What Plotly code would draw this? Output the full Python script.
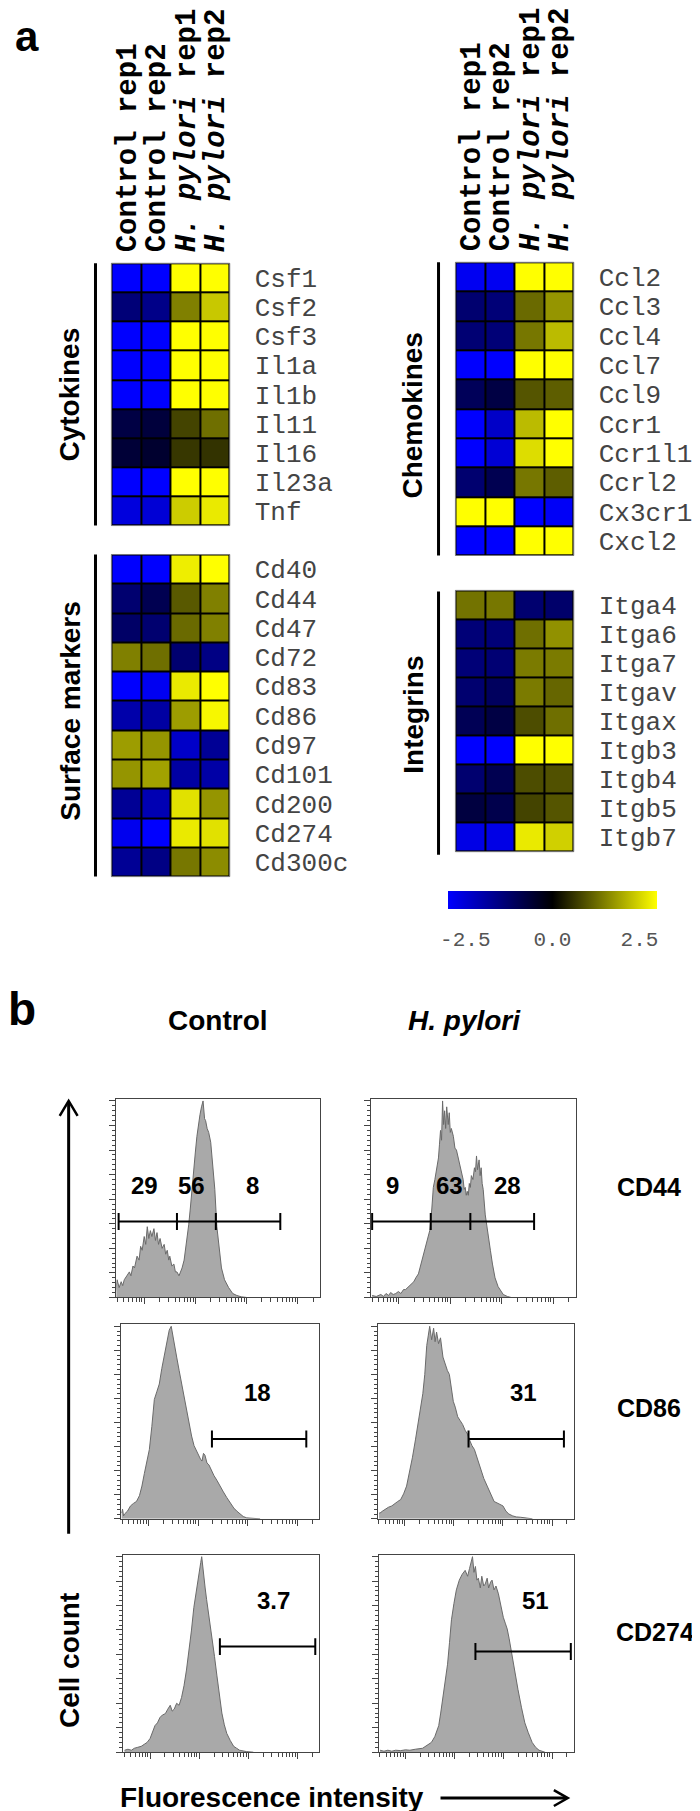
import math
import plotly.graph_objects as go

W, H = 700, 1811
SANS = "Arial, Liberation Sans, sans-serif"
MONO = "Courier New, Liberation Mono, monospace"

# ---------------- panel a : heatmap data ----------------
COLUMNS = ["Control rep1", "Control rep2", "H. pylori rep1", "H. pylori rep2"]
COLUMN_TEXT = ["Control rep1", "Control rep2", "<i>H. pylori</i> rep1", "<i>H. pylori</i> rep2"]

CYTOKINES = ["Csf1", "Csf2", "Csf3", "Il1a", "Il1b", "Il11", "Il16", "Il23a", "Tnf"]
CYTOKINE_Z = [
    [-3.0, -3.0, 3.0, 3.0],
    [-1.4, -1.6, 1.5, 2.35],
    [-3.0, -3.0, 3.0, 3.0],
    [-3.0, -3.0, 3.0, 3.0],
    [-3.0, -3.0, 3.0, 3.0],
    [-0.8, -0.7, 0.8, 1.3],
    [-0.65, -0.55, 0.65, 0.6],
    [-3.0, -3.0, 3.0, 3.0],
    [-2.6, -2.5, 2.4, 2.75],
]

SURFACE = ["Cd40", "Cd44", "Cd47", "Cd72", "Cd83", "Cd86", "Cd97", "Cd101", "Cd200", "Cd274", "Cd300c"]
SURFACE_Z = [
    [-3.0, -3.0, 2.8, 3.0],
    [-1.3, -0.95, 1.05, 1.5],
    [-1.2, -1.3, 1.25, 1.5],
    [1.5, 1.3, -1.3, -1.55],
    [-3.0, -2.85, 2.75, 3.0],
    [-2.0, -1.9, 1.85, 2.9],
    [1.85, 1.75, -2.35, -1.75],
    [1.75, 1.9, -1.9, -1.95],
    [-1.75, -2.1, 2.65, 1.75],
    [-2.8, -3.0, 2.75, 2.65],
    [-1.75, -1.55, 1.4, 1.65],
]

CHEMOKINES = ["Ccl2", "Ccl3", "Ccl4", "Ccl7", "Ccl9", "Ccr1", "Ccr1l1", "Ccrl2", "Cx3cr1", "Cxcl2"]
CHEMOKINE_Z = [
    [-2.85, -2.85, 3.0, 3.0],
    [-1.3, -1.4, 1.25, 1.75],
    [-1.35, -1.4, 1.4, 2.2],
    [-3.0, -3.0, 3.0, 3.0],
    [-1.05, -0.8, 1.0, 1.1],
    [-3.0, -2.35, 2.2, 3.0],
    [-3.0, -2.5, 2.6, 3.0],
    [-1.3, -0.95, 1.4, 1.1],
    [3.0, 3.0, -3.0, -2.9],
    [-3.0, -3.0, 3.0, 3.0],
]

INTEGRINS = ["Itga4", "Itga6", "Itga7", "Itgav", "Itgax", "Itgb3", "Itgb4", "Itgb5", "Itgb7"]
INTEGRIN_Z = [
    [1.35, 1.4, -1.3, -1.25],
    [-1.4, -1.4, 1.3, 1.7],
    [-1.4, -1.35, 1.45, 1.45],
    [-1.3, -1.1, 1.45, 1.2],
    [-1.0, -0.8, 0.9, 1.3],
    [-3.0, -3.0, 3.0, 3.0],
    [-1.3, -0.95, 0.9, 0.95],
    [-0.75, -0.9, 0.8, 1.0],
    [-2.7, -2.7, 2.75, 2.45],
]

SCALE_TICKS = [-2.5, 0.0, 2.5]
SCALE_TEXT = ["-2.5", "0.0", "2.5"]

# ---------------- panel b : flow histograms (x = log10 fluorescence, y = % of max) ----------------
CD44_CTRL_X = [1.44, 1.47, 1.51, 1.55, 1.58, 1.61, 1.66, 1.71, 1.74, 1.78,
               1.81, 1.86, 1.90, 1.93, 1.96, 2.00, 2.03, 2.06, 2.09, 2.12,
               2.15, 2.19, 2.22, 2.25, 2.28, 2.31, 2.35, 2.39, 2.42, 2.45,
               2.48, 2.50, 2.54, 2.58, 2.61, 2.64, 2.68, 2.71, 2.74, 2.78,
               2.83, 2.87, 2.90, 2.93, 2.97, 3.00, 3.03, 3.06, 3.09, 3.12,
               3.15, 3.18, 3.20, 3.23, 3.26, 3.30, 3.34, 3.38, 3.42, 3.48,
               3.51, 3.57, 3.65, 3.73, 3.81, 3.90, 4.00]
CD44_CTRL_Y = [3, 9, 5, 8, 6, 9, 11, 13, 11, 16,
               15, 21, 19, 26, 24, 31, 27, 36, 30, 34,
               31, 35, 29, 33, 27, 30, 25, 27, 22, 24,
               19, 21, 16, 17, 13, 13, 11, 13, 15, 19,
               28, 37, 45, 55, 66, 74, 82, 88, 93, 97,
               100, 91, 90, 86, 84, 79, 66, 55, 36, 22,
               15, 9, 5, 2, 1, 0.3, 0]

CD44_HP_X = [1.48, 1.56, 1.65, 1.70, 1.75, 1.80, 1.84, 1.89, 1.94, 1.99,
             2.04, 2.09, 2.13, 2.19, 2.25, 2.29, 2.33, 2.38, 2.41, 2.44,
             2.47, 2.50, 2.53, 2.56, 2.60, 2.64, 2.67, 2.70, 2.73, 2.77,
             2.79, 2.81, 2.83, 2.85, 2.87, 2.89, 2.91, 2.93, 2.96, 2.98,
             3.00, 3.02, 3.06, 3.09, 3.12, 3.16, 3.20, 3.23, 3.25, 3.27,
             3.29, 3.31, 3.33, 3.35, 3.37, 3.39, 3.41, 3.44, 3.47, 3.49,
             3.51, 3.53, 3.56, 3.58, 3.60, 3.62, 3.64, 3.68, 3.72, 3.78,
             3.82, 3.87, 3.93, 3.99, 4.03, 4.11, 4.18]
CD44_HP_Y = [1, 0.5, 1.5, 0.5, 2, 1, 2.5, 1.5, 2, 3,
             2, 4, 4, 5.5, 7, 8, 10, 12, 15, 18,
             21, 24, 27, 30, 34, 45, 56, 60, 64, 71,
             78, 85, 80, 100, 88, 95, 86, 97, 88, 94,
             84, 86, 82, 76, 75, 70, 66, 62, 60, 55,
             56, 52, 54, 52, 58, 56, 62, 60, 66, 64,
             72, 65, 70, 62, 66, 58, 55, 42, 34, 24,
             17, 10, 5.5, 3, 1.5, 0.5, 0]

CD86_CTRL_X = [1.46, 1.48, 1.50, 1.52, 1.58, 1.64, 1.70, 1.76, 1.82, 1.87,
               1.92, 1.97, 2.02, 2.07, 2.12, 2.17, 2.22, 2.27, 2.32, 2.37,
               2.42, 2.46, 2.49, 2.52, 2.57, 2.62, 2.67, 2.72, 2.77, 2.82,
               2.87, 2.92, 2.97, 3.02, 3.05, 3.08, 3.11, 3.14, 3.18, 3.22,
               3.27, 3.32, 3.38, 3.44, 3.51, 3.58, 3.65, 3.72, 3.78, 3.84,
               3.91, 3.98, 4.12, 4.25]
CD86_CTRL_Y = [3, 5, 1.5, 2.5, 4, 6.7, 8, 9, 12, 17,
               23.6, 29, 36, 48, 62, 66, 70, 78, 85, 91,
               98, 100, 95, 92, 84, 77, 70, 62, 55, 49,
               43, 38, 35, 32, 31, 30, 34, 33, 29, 28,
               25, 22.5, 20, 17, 14, 11, 8, 5.6, 4, 2.5,
               1.2, 0.5, 0.3, 0]

CD86_HP_X = [1.48, 1.50, 1.55, 1.60, 1.67, 1.74, 1.80, 1.86, 1.92, 1.98,
             2.04, 2.10, 2.16, 2.22, 2.30, 2.37, 2.41, 2.45, 2.48, 2.51,
             2.55, 2.59, 2.62, 2.65, 2.69, 2.73, 2.78, 2.83, 2.87, 2.91,
             2.95, 2.99, 3.03, 3.08, 3.13, 3.18, 3.23, 3.28, 3.32, 3.37,
             3.42, 3.47, 3.54, 3.61, 3.68, 3.75, 3.82, 3.90, 4.00, 4.06,
             4.12, 4.20, 4.27, 4.36, 4.45, 4.60]
CD86_HP_Y = [3, 3, 4, 5, 6, 6.7, 8, 9, 10, 13,
             17, 24, 32, 41, 53, 65, 75, 90, 95, 100,
             93, 99, 92, 97, 91, 94, 84, 80, 77, 75,
             67, 61, 58, 53, 51, 49, 46, 44, 41, 38,
             36, 32, 25.6, 21, 17, 13, 9, 8, 6.7, 4,
             2.5, 1.5, 1, 0.8, 0.5, 0]

CD274_CTRL_X = [1.48, 1.55, 1.62, 1.68, 1.75, 1.82, 1.88, 1.94, 2.00, 2.05,
                2.10, 2.15, 2.20, 2.25, 2.31, 2.36, 2.41, 2.45, 2.49, 2.54,
                2.59, 2.64, 2.69, 2.74, 2.79, 2.84, 2.89, 2.95, 3.00, 3.03,
                3.05, 3.09, 3.12, 3.15, 3.20, 3.26, 3.31, 3.36, 3.41, 3.46,
                3.51, 3.56, 3.63, 3.70, 3.76, 3.82, 3.96, 4.10]
CD274_CTRL_Y = [1, 1.5, 1, 2, 2.5, 3, 4, 5, 7, 10,
                13.6, 15, 17.7, 19, 19.7, 22, 24, 21, 22, 25,
                24, 28, 34, 42, 51, 62, 74, 85, 93, 97,
                100, 89, 84, 78, 69, 60, 49, 39, 29, 20,
                14, 9.6, 6, 3, 2, 1, 0.3, 0]

CD274_HP_X = [1.48, 1.56, 1.64, 1.72, 1.80, 1.90, 2.00, 2.09, 2.20, 2.30,
              2.35, 2.44, 2.53, 2.60, 2.68, 2.72, 2.76, 2.81, 2.86, 2.90,
              2.94, 2.99, 3.04, 3.10, 3.16, 3.22, 3.27, 3.31, 3.34, 3.37,
              3.40, 3.43, 3.46, 3.49, 3.53, 3.56, 3.60, 3.63, 3.67, 3.70,
              3.74, 3.77, 3.81, 3.85, 3.90, 3.95, 4.00, 4.04, 4.08, 4.12,
              4.16, 4.22, 4.26, 4.30, 4.37, 4.44, 4.51, 4.59, 4.66, 4.73,
              4.85]
CD274_HP_Y = [1, 0.5, 1, 0.5, 1, 0.8, 1.2, 1, 1.5, 2,
              2, 3.5, 5, 8, 13.6, 20, 27, 36, 45, 56,
              67.7, 76, 83, 88, 91, 93, 90, 94, 97, 100,
              92, 95, 88, 89, 84, 90, 85, 86, 89, 84,
              87, 88, 83, 85, 81, 74, 69, 66, 63, 58,
              52, 44, 38, 32, 23, 15, 10, 5, 2.5, 1,
              0]

GATES = {
    "cd44_ctrl": ([1.50, 2.64, 3.40, 4.66], 38.7),
    "cd44_hp": ([1.48, 2.62, 3.39, 4.63], 38.7),
    "cd86_ctrl": ([3.28, 5.18], 41.5),
    "cd86_hp": ([3.30, 5.24], 41.5),
    "cd274_ctrl": ([3.42, 5.36], 54.0),
    "cd274_hp": ([3.43, 5.38], 51.5),
}
GATE_LABELS = {
    "cd44_ctrl": [("29", 2.00, 57), ("56", 2.93, 57), ("8", 4.12, 57)],
    "cd44_hp": [("9", 1.88, 57), ("63", 2.98, 57), ("28", 4.11, 57)],
    "cd86_ctrl": [("18", 4.20, 65.6)],
    "cd86_hp": [("31", 4.41, 65.6)],
    "cd274_ctrl": [("3.7", 4.51, 77.8)],
    "cd274_hp": [("51", 4.65, 77.8)],
}
MARKERS = ["CD44", "CD86", "CD274"]

X_MIN, X_MAX = 1.456, 5.44

# ---------------- helpers ----------------
def dom_x(a, b):
    return [a / W, b / W]

def dom_y(top, bottom):
    return [1 - bottom / H, 1 - top / H]

def px(x):
    return x / W

def py(y):
    return 1 - y / H

fig = go.Figure()
layout = dict(
    width=W, height=H, margin=dict(l=0, r=0, t=0, b=0),
    paper_bgcolor="white", plot_bgcolor="white", showlegend=False,
    coloraxis=dict(
        colorscale=[[0, "#0000ff"], [0.5, "#000000"], [1, "#ffff00"]],
        cmin=-3, cmax=3,
        colorbar=dict(
            orientation="h", x=px(547.5), xanchor="center", y=py(883), yanchor="top",
            len=209, lenmode="pixels", thickness=18, thicknessmode="pixels",
            outlinewidth=0, xpad=0, ypad=0,
            tickvals=SCALE_TICKS, ticktext=SCALE_TEXT, ticks="outside", ticklen=12,
            tickcolor="rgba(0,0,0,0)",
            tickfont=dict(family=MONO, size=21, color="#555555"),
        ),
    ),
    annotations=[], shapes=[],
)

heatmaps = [
    (1, CYTOKINES, CYTOKINE_Z, (104, 223), (254, 517), True),
    (2, SURFACE, SURFACE_Z, (104, 223), (546, 869), False),
    (3, CHEMOKINES, CHEMOKINE_Z, (450, 569), (253, 547), True),
    (4, INTEGRINS, INTEGRIN_Z, (450, 569), (582, 844), False),
]

def key(prefix, n):
    return prefix if n == 1 else f"{prefix}{n}"

for n, genes, z, (xl, xr), (yt, yb), show_cols in heatmaps:
    xa, ya = key("x", n), key("y", n)
    fig.add_trace(go.Heatmap(
        z=z, x=COLUMNS, y=genes, coloraxis="coloraxis", xgap=2, ygap=2,
        xaxis=xa, yaxis=ya, hoverinfo="skip",
    ))
    layout[key("xaxis", n)] = dict(
        domain=dom_x(xl, xr), anchor=ya, side="top", tickangle=-90,
        tickmode="array", tickvals=COLUMNS, ticktext=COLUMN_TEXT, showticklabels=show_cols,
        ticks="", ticklabelstandoff=10,
        tickfont=dict(family=MONO, size=29, color="black", weight="bold"),
        showgrid=False, zeroline=False, showline=False,
    )
    layout[key("yaxis", n)] = dict(
        domain=dom_y(yt, yb), anchor=xa, side="right", autorange="reversed",
        tickmode="array", tickvals=genes, ticktext=genes,
        ticks="", ticklabelstandoff=24,
        tickfont=dict(family=MONO, size=26, color="#444444"),
        showgrid=False, zeroline=False, showline=False,
    )
    layout["shapes"].append(dict(
        type="rect", xref=f"{xa} domain", yref=f"{ya} domain",
        x0=0, x1=1, y0=0, y1=1, layer="below",
        fillcolor="black", line=dict(color="#777777", width=1),
    ))

# group bars and labels
groups = [
    ("Cytokines", 88, 254, 517, 62, 386),
    ("Surface markers", 88, 546, 869, 62, 703),
    ("Chemokines", 433, 253, 547, 407, 406),
    ("Integrins", 433, 583, 847, 407, 707),
]
for label, bx, y0, y1, tx, ty in groups:
    layout["shapes"].append(dict(type="line", xref="paper", yref="paper",
                                 x0=px(bx), x1=px(bx), y0=py(y0), y1=py(y1),
                                 line=dict(color="black", width=3)))
    layout["annotations"].append(dict(
        text=f"<b>{label}</b>", xref="paper", yref="paper", x=px(tx), y=py(ty),
        xanchor="center", yanchor="middle", textangle=-90, showarrow=False,
        font=dict(family=SANS, size=28, color="black")))

# panel letters and column titles
layout["annotations"].append(dict(
    text="<b>a</b>", xref="paper", yref="paper", x=px(19), y=py(1),
    xanchor="center", yanchor="top", showarrow=False,
    font=dict(family=SANS, size=42, color="black")))
layout["annotations"].append(dict(
    text="<b>b</b>", xref="paper", yref="paper", x=px(14), y=py(1002),
    xanchor="center", yanchor="middle", showarrow=False,
    font=dict(family=SANS, size=46, color="black")))
layout["annotations"].append(dict(
    text="<b>Control</b>", xref="paper", yref="paper", x=px(211), y=py(1013),
    xanchor="center", yanchor="middle", showarrow=False,
    font=dict(family=SANS, size=28, color="black")))
layout["annotations"].append(dict(
    text="<b><i>H. pylori</i></b>", xref="paper", yref="paper", x=px(459), y=py(1013),
    xanchor="center", yanchor="middle", showarrow=False,
    font=dict(family=SANS, size=28, color="black")))

# ---------------- histograms ----------------
MAJOR = [2, 3, 4, 5]
MINOR = []
for d in [1, 2, 3, 4, 5]:
    for k in range(2, 10):
        v = d + math.log10(k)
        if X_MIN <= v <= X_MAX:
            MINOR.append(v)

hists = [
    (5, "cd44_ctrl", CD44_CTRL_X, CD44_CTRL_Y, (109, 314), (1092, 1291)),
    (6, "cd44_hp", CD44_HP_X, CD44_HP_Y, (365, 571), (1092, 1291)),
    (7, "cd86_ctrl", CD86_CTRL_X, CD86_CTRL_Y, (114, 313), (1318, 1513)),
    (8, "cd86_hp", CD86_HP_X, CD86_HP_Y, (372, 569), (1318, 1513)),
    (9, "cd274_ctrl", CD274_CTRL_X, CD274_CTRL_Y, (116, 313), (1549, 1747)),
    (10, "cd274_hp", CD274_HP_X, CD274_HP_Y, (373, 569), (1549, 1747)),
]

for n, name, xs, ys, (xl, xr), (yt, yb) in hists:
    xa, ya = f"x{n}", f"y{n}"
    fig.add_trace(go.Scatter(
        x=xs, y=ys, mode="lines", line=dict(color="#6a6a6a", width=1),
        fill="tozeroy", fillcolor="#a9a9a9", xaxis=xa, yaxis=ya, hoverinfo="skip"))
    gx, gy = GATES[name]
    tick_h = 8.5 / (yb - yt) * 101
    lx, ly = [gx[0], gx[-1], None], [gy, gy, None]
    for g in gx:
        lx += [g, g, None]
        ly += [gy - tick_h, gy + tick_h, None]
    fig.add_trace(go.Scatter(
        x=lx, y=ly, mode="lines", line=dict(color="black", width=2),
        xaxis=xa, yaxis=ya, hoverinfo="skip"))
    for text, tx, ty in GATE_LABELS[name]:
        layout["annotations"].append(dict(
            text=f"<b>{text}</b>", xref=xa, yref=ya, x=tx, y=ty,
            xanchor="center", yanchor="middle", showarrow=False,
            font=dict(family=SANS, size=24, color="black")))
    layout[f"xaxis{n}"] = dict(
        domain=dom_x(xl, xr), anchor=ya, range=[X_MIN, X_MAX],
        showline=True, mirror=True, linecolor="#444444", linewidth=1,
        ticks="outside", ticklen=6, tickwidth=1, tickcolor="#444444",
        tickmode="array", tickvals=MAJOR, showticklabels=False, showgrid=False, zeroline=False,
        minor=dict(ticks="outside", ticklen=4, tickmode="array", tickvals=MINOR,
                   tickcolor="#444444", showgrid=False),
    )
    layout[f"yaxis{n}"] = dict(
        domain=dom_y(yt, yb), anchor=xa, range=[0, 101],
        showline=True, mirror=True, linecolor="#444444", linewidth=1,
        ticks="outside", ticklen=6, tickwidth=1, tickcolor="#444444",
        tick0=0, dtick=12.5, showticklabels=False, showgrid=False, zeroline=False,
        minor=dict(ticks="outside", ticklen=3, tick0=0, dtick=2.5, tickcolor="#444444", showgrid=False),
    )

for label, x, y in zip(MARKERS, [645, 645, 651], [1180, 1402, 1626]):
    layout["annotations"].append(dict(
        text=f"<b>{label}</b>", xref="paper", yref="paper", x=px(x), y=py(y),
        xanchor="center", yanchor="middle", showarrow=False,
        font=dict(family=SANS, size=25, color="black")))

# axis titles with arrows
layout["annotations"].append(dict(
    text="<b>Cell count</b>", xref="paper", yref="paper", x=px(62), y=py(1655),
    xanchor="center", yanchor="middle", textangle=-90, showarrow=False,
    font=dict(family=SANS, size=28, color="black")))
layout["annotations"].append(dict(
    text="<b>Fluorescence intensity</b>", xref="paper", yref="paper", x=px(266), y=py(1792),
    xanchor="center", yanchor="middle", showarrow=False,
    font=dict(family=SANS, size=28, color="black")))

arrow_line = dict(color="black", width=3)
layout["shapes"] += [
    dict(type="line", xref="paper", yref="paper", x0=px(61), x1=px(61),
         y0=py(1528), y1=py(1095), line=arrow_line),
    dict(type="path", xref="paper", yref="paper",
         path=f"M {px(52)},{py(1109)} L {px(61)},{py(1094)} L {px(70)},{py(1109)}",
         line=dict(color="black", width=2.5)),
    dict(type="line", xref="paper", yref="paper", x0=px(435), x1=px(562),
         y0=py(1793), y1=py(1793), line=arrow_line),
    dict(type="path", xref="paper", yref="paper",
         path=f"M {px(549)},{py(1785)} L {px(563)},{py(1793)} L {px(549)},{py(1801)}",
         line=dict(color="black", width=2.5)),
]

fig.update_layout(**layout)
fig.write_html("out.html")
